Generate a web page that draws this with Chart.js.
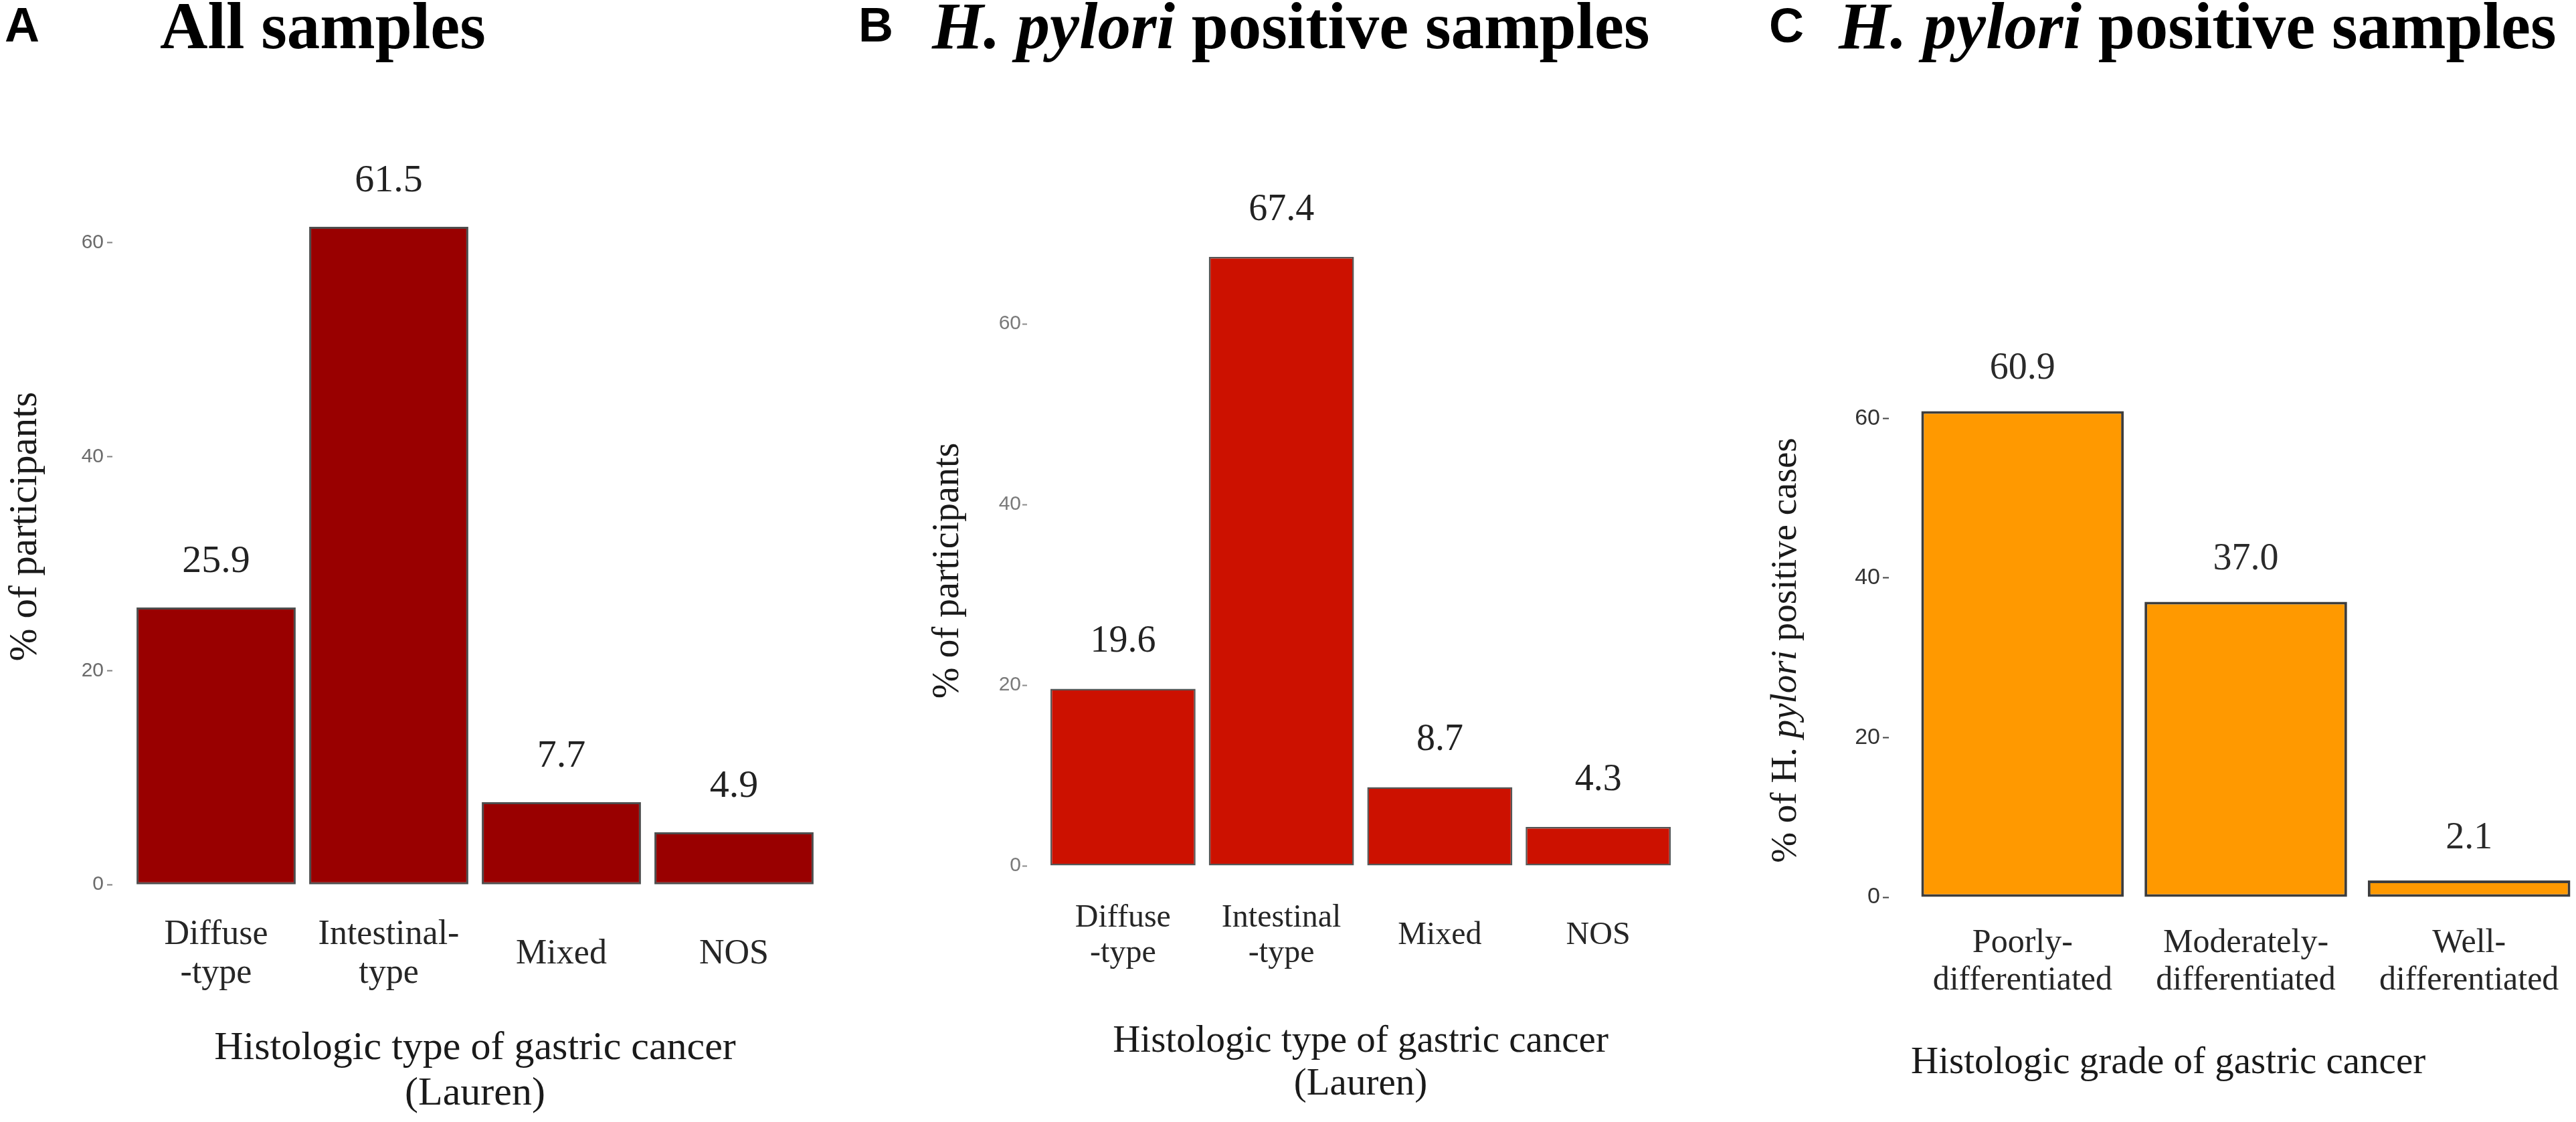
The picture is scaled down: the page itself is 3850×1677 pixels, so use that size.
<!DOCTYPE html>
<html>
<head>
<meta charset="utf-8">
<title>Histologic type and grade of gastric cancer</title>
<script src="https://cdn.jsdelivr.net/npm/chart.js@4.4.1/dist/chart.umd.min.js"></script>
<style>
    html, body { margin: 0; padding: 0; background: #fff; }
    body { width: 3850px; height: 1677px; position: relative; overflow: hidden; }
    .panel-letter {
        position: absolute;
        font-family: 'Liberation Sans', Arial, sans-serif;
        font-weight: bold;
        font-size: 72px;
        line-height: 1;
        color: #000;
    }
    .panel-title {
        position: absolute;
        font-family: 'Liberation Serif', 'Times New Roman', serif;
        font-weight: bold;
        font-size: 99px;
        line-height: 1;
        color: #000;
        white-space: nowrap;
    }
    canvas { position: absolute; }
</style>
</head>
<body>
    <div class="panel-letter" style="left:7px; top:1px;">A</div>
    <div class="panel-title" style="left:239px; top:-11px;">All samples</div>

    <div class="panel-letter" style="left:1283px; top:1px;">B</div>
    <div class="panel-title" style="left:1393px; top:-11px;"><i>H. pylori</i> positive samples</div>

    <div class="panel-letter" style="left:2644px; top:2px;">C</div>
    <div class="panel-title" style="left:2748px; top:-11px;"><i>H. pylori</i> positive samples</div>

    <canvas id="chartA" width="1240" height="1497" style="left:0px; top:180px;"></canvas>
    <canvas id="chartB" width="1230" height="1497" style="left:1300px; top:180px;"></canvas>
    <canvas id="chartC" width="1280" height="1497" style="left:2580px; top:180px;"></canvas>

<script>
// Data (percentages)
const laurenLabelsAll = [['Diffuse', '-type'], ['Intestinal-', 'type'], 'Mixed', 'NOS'];
const laurenLabelsHp = [['Diffuse', '-type'], ['Intestinal', '-type'], 'Mixed', 'NOS'];
const gradeLabels = [['Poorly-', 'differentiated'], ['Moderately-', 'differentiated'], ['Well-', 'differentiated']];

const pctAllSamples = [25.9, 61.5, 7.7, 4.9];
const pctHpType = [19.6, 67.4, 8.7, 4.3];
const pctHpGrade = [60.9, 37.0, 2.1];

const yTickValues = [0, 20, 40, 60];

document.addEventListener('DOMContentLoaded', () => {
    Chart.defaults.font.family = "'Liberation Serif', 'Times New Roman', serif";
    Chart.defaults.color = '#262626';

    const SERIF = "'Liberation Serif', 'Times New Roman', serif";

    // value printed above every bar
    const valueLabels = {
        id: 'valueLabels',
        afterDatasetsDraw(chart, args, opts) {
            const { ctx } = chart;
            const values = chart.data.datasets[0].data;
            ctx.save();
            ctx.font = `${opts.size}px ${SERIF}`;
            ctx.fillStyle = opts.color;
            ctx.textAlign = 'center';
            ctx.textBaseline = 'middle';
            chart.getDatasetMeta(0).data.forEach((bar, i) => {
                ctx.fillText(values[i].toFixed(1), bar.x, bar.y - opts.offset);
            });
            ctx.restore();
        }
    };

    // rotated y title, allows an italic part (H. pylori)
    const yTitle = {
        id: 'yTitle',
        afterDraw(chart, args, opts) {
            const { ctx } = chart;
            const texts = opts.texts;
            const italics = opts.italics;
            const fontFor = i => `${italics[i] === true ? 'italic ' : 'normal '}${opts.size}px ${SERIF}`;
            ctx.save();
            ctx.fillStyle = opts.color;
            ctx.textAlign = 'left';
            ctx.textBaseline = 'alphabetic';
            let total = 0;
            texts.forEach((t, i) => { ctx.font = fontFor(i); total += ctx.measureText(t).width; });
            ctx.translate(opts.x, opts.y);
            ctx.rotate(-Math.PI / 2);
            let pos = -total / 2;
            texts.forEach((t, i) => {
                ctx.font = fontFor(i);
                ctx.fillText(t, pos, 0);
                pos += ctx.measureText(t).width;
            });
            ctx.restore();
        }
    };

    function buildPanel(canvasId, cfg) {
        return new Chart(document.getElementById(canvasId), {
            type: 'bar',
            data: {
                labels: cfg.labels,
                datasets: [{
                    data: cfg.values,
                    backgroundColor: cfg.fill,
                    borderColor: cfg.edge,
                    borderWidth: cfg.edgeWidth,
                    borderSkipped: false,
                    barPercentage: cfg.barPct,
                    categoryPercentage: 1
                }]
            },
            options: {
                responsive: false,
                animation: false,
                layout: { padding: { top: cfg.padTop, right: cfg.padRight, left: 0, bottom: 0 } },
                plugins: {
                    legend: { display: false },
                    tooltip: { enabled: false },
                    valueLabels: { size: cfg.labelSize, offset: cfg.labelOffset, color: cfg.labelColor },
                    yTitle: {
                        texts: cfg.yTitleTexts, italics: cfg.yTitleItalics,
                        size: cfg.yTitleSize, x: cfg.yTitleX, y: cfg.yTitleY, color: '#1a1a1a'
                    }
                },
                scales: {
                    x: {
                        grid: { display: false, drawTicks: false },
                        border: { display: false },
                        ticks: {
                            autoSkip: false,
                            maxRotation: 0,
                            minRotation: 0,
                            crossAlign: cfg.xCross,
                            padding: cfg.xPad,
                            color: '#262626',
                            font: { size: cfg.xFont, lineHeight: 1.12 }
                        },
                        title: {
                            display: true,
                            text: cfg.xTitle,
                            align: cfg.xTitleAlign,
                            color: '#1a1a1a',
                            font: { size: cfg.xTitleFont, lineHeight: 1.12 },
                            padding: { top: 0, bottom: cfg.xTitlePad }
                        },
                        afterFit: scale => { scale.height = cfg.xHeight; }
                    },
                    y: {
                        min: cfg.yMin,
                        max: cfg.yMax,
                        afterBuildTicks: scale => { scale.ticks = yTickValues.map(v => ({ value: v })); },
                        grid: {
                            drawOnChartArea: false,
                            drawTicks: true,
                            tickLength: cfg.tickLen,
                            tickBorderDash: cfg.tickDash,
                            tickColor: cfg.tickColor,
                            tickWidth: 2
                        },
                        border: { display: false },
                        ticks: {
                            padding: cfg.yPad,
                            color: cfg.yTickColor,
                            font: { family: "'Liberation Sans', Arial, sans-serif", size: cfg.yTickFont }
                        },
                        afterFit: scale => { scale.width = cfg.yWidth; }
                    }
                }
            },
            plugins: [valueLabels, yTitle]
        });
    }

    // A. All samples
    buildPanel('chartA', {
        labels: laurenLabelsAll,
        values: pctAllSamples,
        fill: '#990000', edge: '#4d4d4d', edgeWidth: 3, barPct: 0.922,
        padTop: 15, padRight: 14, yWidth: 194, xHeight: 322.8,
        yMin: -2, yMax: 70,
        yTickFont: 30, yTickColor: '#6b6b6b', yPad: 5,
        tickLen: 34, tickDash: [8, 26], tickColor: '#808080',
        xFont: 52, xCross: 'center', xPad: 43,
        xTitle: ['Histologic type of gastric cancer', '(Lauren)'], xTitleFont: 60, xTitlePad: 8.6, xTitleAlign: 'center',
        labelSize: 58, labelOffset: 68, labelColor: '#222',
        yTitleTexts: ['% of participants'], yTitleItalics: [false],
        yTitleSize: 59, yTitleX: 54, yTitleY: 607
    });

    // B. H. pylori positive, Lauren type
    buildPanel('chartB', {
        labels: laurenLabelsHp,
        values: pctHpType,
        fill: '#cc1100', edge: '#555555', edgeWidth: 2.5, barPct: 0.916,
        padTop: 88, padRight: 23, yWidth: 260, xHeight: 356,
        yMin: -2, yMax: 76,
        yTickFont: 30, yTickColor: '#7a7a7a', yPad: 2,
        tickLen: 32, tickDash: [7, 25], tickColor: '#8a8a8a',
        xFont: 48, xCross: 'center', xPad: 51,
        xTitle: ['Histologic type of gastric cancer', '(Lauren)'], xTitleFont: 57, xTitlePad: 24.3, xTitleAlign: 'center',
        labelSize: 56, labelOffset: 70, labelColor: '#222',
        yTitleTexts: ['% of participants'], yTitleItalics: [false],
        yTitleSize: 56, yTitleX: 132, yTitleY: 673
    });

    // C. H. pylori positive, histologic grade
    buildPanel('chartC', {
        labels: gradeLabels,
        values: pctHpGrade,
        fill: '#ff9900', edge: '#3d3d3d', edgeWidth: 4, barPct: 0.907,
        padTop: 373.6, padRight: 3, yWidth: 276, xHeight: 312.1,
        yMin: -2, yMax: 66,
        yTickFont: 34, yTickColor: '#333333', yPad: 4,
        tickLen: 42, tickDash: [9, 33], tickColor: '#444444',
        xFont: 50, xCross: 'near', xPad: 17,
        xTitle: 'Histologic grade of gastric cancer', xTitleFont: 57, xTitlePad: 56.3, xTitleAlign: 'start',
        labelSize: 56, labelOffset: 63, labelColor: '#2a2a2a',
        yTitleTexts: ['% of H. ', 'pylori', ' positive cases'], yTitleItalics: [false, true, false],
        yTitleSize: 55, yTitleX: 104, yTitleY: 792
    });
});
</script>
</body>
</html>
